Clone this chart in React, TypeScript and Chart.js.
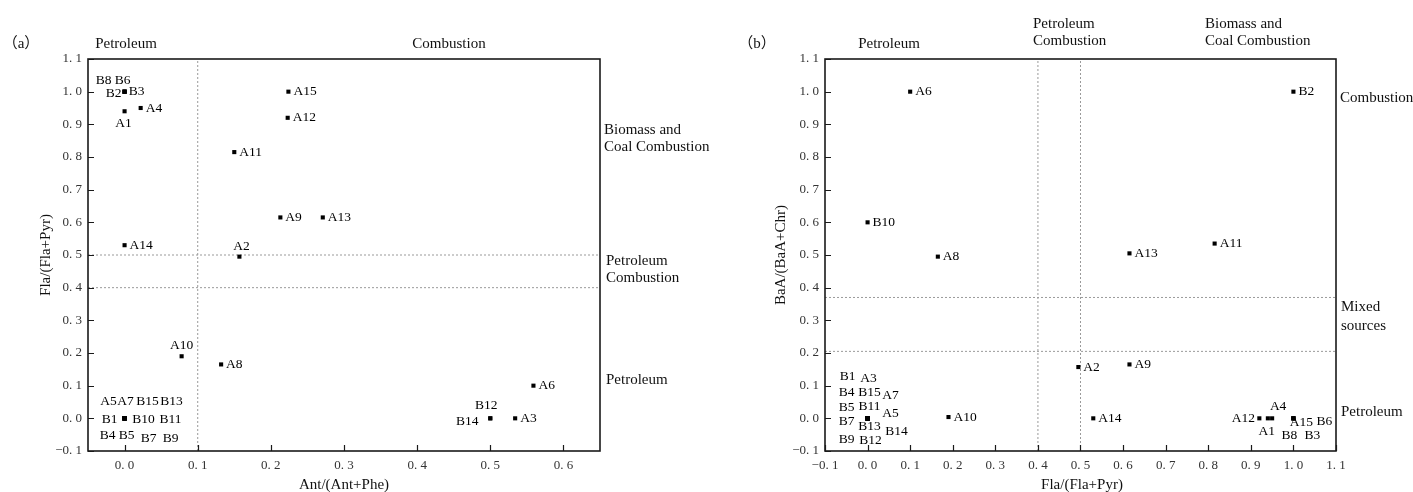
import React, { useEffect, useRef } from "react";
import { Chart, registerables } from "chart.js";

Chart.register(...registerables);

// ---------------- data ----------------
const samples = [
  "A1", "A2", "A3", "A4", "A5", "A6", "A7", "A8", "A9", "A10", "A11", "A12", "A13", "A14", "A15",
  "B1", "B2", "B3", "B4", "B5", "B6", "B7", "B8", "B9", "B10", "B11", "B12", "B13", "B14", "B15",
];
// Ant/(Ant+Phe)
const antPhe = [
  0, 0.157, 0.534, 0.022, 0, 0.559, 0, 0.132, 0.213, 0.078, 0.15, 0.223, 0.271, 0, 0.224,
  0, 0, 0, 0, 0, 0, 0, 0, 0, 0, 0, 0.5, 0, 0.5, 0,
];
// Fla/(Fla+Pyr)
const flaPyr = [
  0.94, 0.495, 0, 0.95, 0, 0.1, 0, 0.165, 0.615, 0.19, 0.815, 0.92, 0.615, 0.53, 1.0,
  0, 1.0, 1.0, 0, 0, 1.0, 0, 1.0, 0, 0, 0, 0, 0, 0, 0,
];
// BaA/(BaA+Chr)
const baaChr = [
  0, 0.157, 0, 0, 0, 1.0, 0, 0.495, 0.165, 0.004, 0.535, 0, 0.505, 0, 0,
  0, 1.0, 0, 0, 0, 0, 0, 0, 0, 0.6, 0, 0, 0, 0, 0,
];

const xTicksA = [0, 0.1, 0.2, 0.3, 0.4, 0.5, 0.6];
const xTicksB = [-0.1, 0, 0.1, 0.2, 0.3, 0.4, 0.5, 0.6, 0.7, 0.8, 0.9, 1.0, 1.1];
const yTicks = [-0.1, 0, 0.1, 0.2, 0.3, 0.4, 0.5, 0.6, 0.7, 0.8, 0.9, 1.0, 1.1];

const vLinesA = [0.1];
const hLinesA = [0.4, 0.5];
const vLinesB = [0.4, 0.5];
const hLinesB = [0.205, 0.37];

// ---------------- layout (label offsets, text placement) ----------------
type Off = [number, number];
const labelOffA: Record<string, Off> = {
  A5: [-16, -17], A7: [1, -17], B15: [23, -17], B13: [47, -17],
  B1: [-15, 1], B10: [19, 1], B11: [46, 1],
  B4: [-17, 17], B5: [2, 17], B7: [24, 20], B9: [46, 20],
  B8: [-21, -11], B6: [-2, -11], B2: [-11, 2], B3: [12, 0],
  A1: [-1, 12], A2: [2, -10], A10: [0, -11],
  B12: [-4, -13], B14: [-23, 3],
};
const labelOffB: Record<string, Off> = {
  B1: [-20, -42], A3: [1, -40], B4: [-21, -26], B15: [2, -26], A7: [23, -23],
  B5: [-21, -11], B11: [2, -12], A5: [23, -5], B7: [-21, 3], B13: [2, 8],
  B14: [29, 13], B9: [-21, 21], B12: [3, 22],
  A12: [-16, 0], A4: [6, -12], A1: [-1, 13], A15: [8, 4], B6: [31, 3], B8: [-4, 17], B3: [19, 17],
};

type Txt = { t: string; x: number; y: number; align?: CanvasTextAlign; rot?: boolean };

const FONT = '"Liberation Serif", "Times New Roman", "Noto Sans CJK SC", serif';

const fmt = (v: number) => {
  const s = Math.abs(v).toFixed(1).replace(".", ". ");
  return (v < -1e-9 ? "\u2212" : "") + s;
};

type Cfg = {
  W: number;
  H: number;
  area: { left: number; right: number; top: number; bottom: number };
  xs: number[];
  ys: number[];
  xMin: number;
  xMax: number;
  xTicks: number[];
  vLines: number[];
  hLines: number[];
  offsets: Record<string, Off>;
  texts: Txt[];
};

const Y_MIN = -0.1;
const Y_MAX = 1.1;

function makeOverlay(cfg: Cfg) {
  return {
    id: "overlay",
    afterDraw(chart: any) {
      const ctx: CanvasRenderingContext2D = chart.ctx;
      const { left, right, top, bottom } = chart.chartArea;
      const sx = chart.scales.x;
      const sy = chart.scales.y;
      ctx.save();
      // frame
      ctx.strokeStyle = "#1a1a1a";
      ctx.lineWidth = 1.6;
      ctx.strokeRect(left, top, right - left, bottom - top);
      // inward ticks
      ctx.lineWidth = 1.2;
      ctx.beginPath();
      cfg.xTicks.forEach((v) => {
        const px = Math.round(sx.getPixelForValue(v)) + 0.5;
        ctx.moveTo(px, bottom);
        ctx.lineTo(px, bottom - 6);
      });
      yTicks.forEach((v) => {
        const py = Math.round(sy.getPixelForValue(v)) + 0.5;
        ctx.moveTo(left, py);
        ctx.lineTo(left + 6, py);
      });
      ctx.stroke();

      // point labels
      ctx.fillStyle = "#000";
      ctx.font = `13.5px ${FONT}`;
      ctx.textBaseline = "middle";
      const meta = chart.getDatasetMeta(0);
      meta.data.forEach((el: any, i: number) => {
        const name = samples[i];
        const off = cfg.offsets[name];
        if (off) {
          ctx.textAlign = "center";
          ctx.fillText(name, el.x + off[0], el.y + off[1]);
        } else {
          ctx.textAlign = "left";
          ctx.fillText(name, el.x + 5, el.y);
        }
      });

      // annotation texts
      ctx.font = `15px ${FONT}`;
      ctx.fillStyle = "#111";
      cfg.texts.forEach((t) => {
        ctx.textAlign = t.align || "left";
        if (t.rot) {
          ctx.save();
          ctx.translate(t.x, t.y);
          ctx.rotate(-Math.PI / 2);
          ctx.textAlign = "center";
          ctx.fillText(t.t, 0, 0);
          ctx.restore();
        } else {
          ctx.fillText(t.t, t.x, t.y);
        }
      });
      ctx.restore();
    },
  };
}

function buildChart(canvas: HTMLCanvasElement, cfg: Cfg) {
  const pts = samples.map((s, i) => ({ x: cfg.xs[i], y: cfg.ys[i] }));
  const lineStyle = {
    showLine: true,
    pointRadius: 0,
    borderColor: "#9a9a9a",
    borderWidth: 1,
    borderDash: [2, 2],
    order: 2,
  };
  const datasets: any[] = [
    {
      data: pts,
      pointStyle: "rect",
      pointRadius: 2.9,
      backgroundColor: "#000",
      borderWidth: 0,
      order: 1,
    },
    ...cfg.vLines.map((v) => ({
      ...lineStyle,
      data: [
        { x: v, y: Y_MIN },
        { x: v, y: Y_MAX },
      ],
    })),
    ...cfg.hLines.map((v) => ({
      ...lineStyle,
      data: [
        { x: cfg.xMin, y: v },
        { x: cfg.xMax, y: v },
      ],
    })),
  ];
  const tickFont = { family: FONT, size: 13 };
  return new Chart(canvas, {
    type: "scatter",
    data: { datasets },
    options: {
      animation: false,
      responsive: false,
      maintainAspectRatio: false,
      layout: {
        padding: { left: 0, top: cfg.area.top, right: cfg.W - cfg.area.right, bottom: 0 },
      },
      plugins: { legend: { display: false }, tooltip: { enabled: false } },
      scales: {
        x: {
          type: "linear",
          min: cfg.xMin,
          max: cfg.xMax,
          afterBuildTicks: (s: any) => {
            s.ticks = cfg.xTicks.map((v) => ({ value: v }));
          },
          afterFit: (s: any) => {
            s.height = cfg.H - cfg.area.bottom;
          },
          grid: { display: false, drawTicks: false },
          border: { display: false },
          ticks: {
            font: tickFont,
            color: "#333",
            padding: 7,
            autoSkip: false,
            maxRotation: 0,
            callback: (v: any) => fmt(Number(v)),
          },
        },
        y: {
          type: "linear",
          min: Y_MIN,
          max: Y_MAX,
          afterBuildTicks: (s: any) => {
            s.ticks = yTicks.map((v) => ({ value: v }));
          },
          afterFit: (s: any) => {
            s.width = cfg.area.left;
          },
          grid: { display: false, drawTicks: false },
          border: { display: false },
          ticks: {
            font: tickFont,
            color: "#333",
            padding: 6,
            autoSkip: false,
            callback: (v: any) => fmt(Number(v)),
          },
        },
      },
    } as any,
    plugins: [makeOverlay(cfg)],
  });
}

const cfgA: Cfg = {
  W: 740,
  H: 492,
  area: { left: 88, right: 600, top: 59, bottom: 451 },
  xs: antPhe,
  ys: flaPyr,
  xMin: -0.05,
  xMax: 0.65,
  xTicks: xTicksA,
  vLines: vLinesA,
  hLines: hLinesA,
  offsets: labelOffA,
  texts: [
    { t: "\uFF08a\uFF09", x: 21, y: 44, align: "center" },
    { t: "Petroleum", x: 126, y: 44, align: "center" },
    { t: "Combustion", x: 449, y: 44, align: "center" },
    { t: "Biomass and", x: 604, y: 130 },
    { t: "Coal Combustion", x: 604, y: 147 },
    { t: "Petroleum", x: 606, y: 261 },
    { t: "Combustion", x: 606, y: 278 },
    { t: "Petroleum", x: 606, y: 380 },
    { t: "Fla/(Fla+Pyr)", x: 46, y: 255, rot: true },
    { t: "Ant/(Ant+Phe)", x: 344, y: 485, align: "center" },
  ],
};

const cfgB: Cfg = {
  W: 673,
  H: 492,
  area: { left: 85, right: 596, top: 59, bottom: 451 },
  xs: flaPyr,
  ys: baaChr,
  xMin: -0.1,
  xMax: 1.1,
  xTicks: xTicksB,
  vLines: vLinesB,
  hLines: hLinesB,
  offsets: labelOffB,
  texts: [
    { t: "\uFF08b\uFF09", x: 17, y: 44, align: "center" },
    { t: "Petroleum", x: 149, y: 44, align: "center" },
    { t: "Petroleum", x: 293, y: 24 },
    { t: "Combustion", x: 293, y: 41 },
    { t: "Biomass and", x: 465, y: 24 },
    { t: "Coal Combustion", x: 465, y: 41 },
    { t: "Combustion", x: 600, y: 98 },
    { t: "Mixed", x: 601, y: 307 },
    { t: "sources", x: 601, y: 326 },
    { t: "Petroleum", x: 601, y: 412 },
    { t: "BaA/(BaA+Chr)", x: 41, y: 255, rot: true },
    { t: "Fla/(Fla+Pyr)", x: 342, y: 485, align: "center" },
  ],
};

export default function App() {
  const refA = useRef<HTMLCanvasElement>(null);
  const refB = useRef<HTMLCanvasElement>(null);
  useEffect(() => {
    const a = buildChart(refA.current!, cfgA);
    const b = buildChart(refB.current!, cfgB);
    return () => {
      a.destroy();
      b.destroy();
    };
  }, []);
  return (
    <div style={{ position: "absolute", left: 0, top: 0, width: 1413, height: 492, background: "#fff", overflow: "hidden" }}>
      <canvas ref={refA} width={740} height={492} style={{ position: "absolute", left: 0, top: 0, width: 740, height: 492 }} />
      <canvas ref={refB} width={673} height={492} style={{ position: "absolute", left: 740, top: 0, width: 673, height: 492 }} />
    </div>
  );
}
